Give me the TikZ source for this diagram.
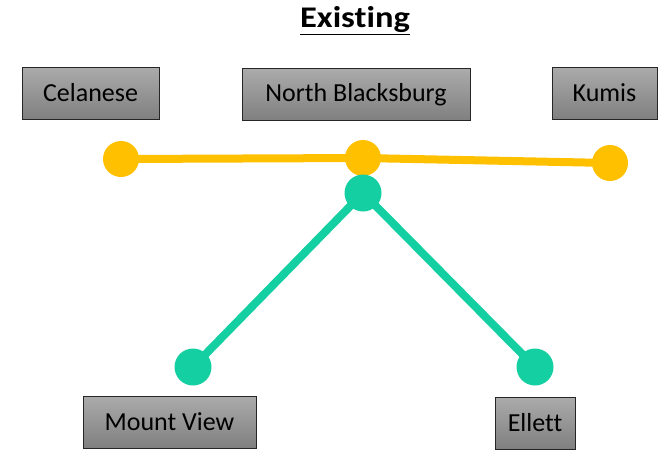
\documentclass[tikz,border=0pt]{standalone}
\usepackage{fontspec}
\setmainfont{Carlito}[Ligatures=NoCommon]
\usetikzlibrary{backgrounds}

\definecolor{lineyellow}{RGB}{255,192,0}
\definecolor{linegreen}{RGB}{19,207,161}

\begin{document}
\begin{tikzpicture}[
    x=1pt, y=-1pt,
    stationbox/.style={draw=black!85, line width=0.9pt, top color=black!33, bottom color=black!50,
        minimum height=52pt, inner xsep=0pt, font=\fontsize{26}{30}\selectfont},
    ydot/.style={circle, fill=lineyellow, minimum size=36pt, inner sep=0pt},
    gdot/.style={circle, fill=linegreen, minimum size=37pt, inner sep=0pt},
    yline/.style={lineyellow, line width=8pt},
    gline/.style={linegreen, line width=8pt}
]
\useasboundingbox (0,0) rectangle (658,450);
\node[font=\bfseries\fontsize{30}{34}\selectfont] (title) at (355,21) {\scalebox{1.15}[1]{\underline{Existing}}};
% station labels
\node[stationbox, minimum width=137pt] (celanese) at (90.5,93) {Celanese};
\node[stationbox, minimum width=228pt] (northbb) at (356,94.5) {North Blacksburg};
\node[stationbox, minimum width=105pt] (kumis) at (604.5,93) {Kumis};
\node[stationbox, minimum width=173pt] (mountview) at (169.5,422) {Mount View};
\node[stationbox, minimum width=80pt] (ellett) at (535,423) {Ellett};
% stops
\node[ydot] (celdot) at (121,159) {};
\node[ydot] (nbydot) at (363,158) {};
\node[ydot] (kumdot) at (610,163) {};
\node[gdot] (nbgdot) at (363,193) {};
\node[gdot] (mvdot) at (193,367) {};
\node[gdot] (eldot) at (535,367) {};
\begin{pgfonlayer}{background}
\draw[yline] (celdot.center) -- (nbydot.center) -- (kumdot.center);
\draw[gline] (mvdot.center) -- (nbgdot.center) -- (eldot.center);
\end{pgfonlayer}
\end{tikzpicture}
\end{document}
